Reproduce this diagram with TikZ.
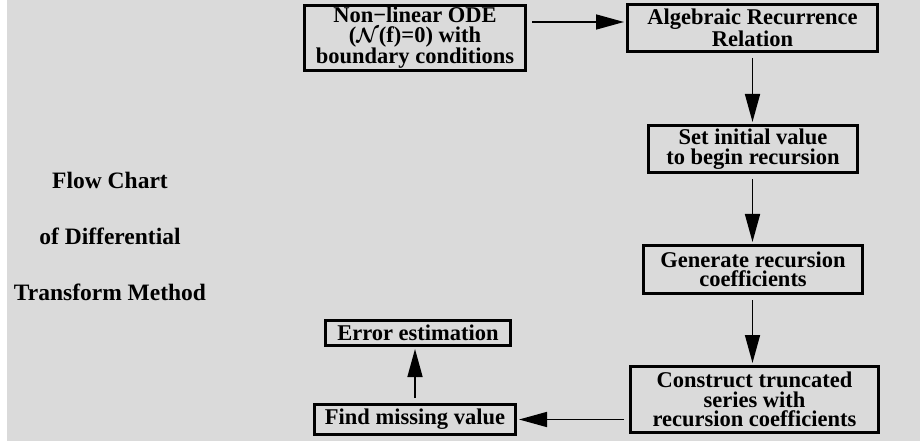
\documentclass[tikz,border=0pt]{standalone}
\usepackage{amsmath}
\usepackage{fontspec}
\setmainfont{Liberation Serif}
\usetikzlibrary{arrows.meta}
\definecolor{bggray}{RGB}{218,218,218}

\begin{document}
\begin{tikzpicture}[x=1pt,y=-1pt]
              \tikzstyle{every node} = [font=\fontsize{22.5}{19.5}\selectfont\bfseries, align=center, inner sep=0pt];
              \tikzstyle{stepbox} = [draw, line width=3pt, fill=bggray];
              \tikzstyle{flow} = [line width=1.6pt, -{Triangle[length=28pt,width=15pt]}, shorten <=5pt, shorten >=2pt];
              \useasboundingbox (0,0) rectangle (920,446);
              \fill[bggray] (7,0) rectangle (920,441);
              % title on the left
              \node[font=\fontsize{23.5}{24}\selectfont\bfseries](t1) at (110,180) {Flow Chart};
              \node[font=\fontsize{23.5}{24}\selectfont\bfseries](t2) at (110,236) {of Differential};
              \node[font=\fontsize{23.5}{24}\selectfont\bfseries](t3) at (110,292) {Transform Method};
              % boxes
              \node[stepbox, minimum width=221, minimum height=65](ode) at (415,38) {Non−linear ODE\\($\boldsymbol{\mathcal{N}}$(f)=0) with\\boundary conditions};
              \node[stepbox, minimum width=250, minimum height=47](alg) at (752.5,28) {Algebraic Recurrence\\Relation};
              \node[stepbox, minimum width=209, minimum height=47](init) at (753,149) {Set initial value\\to begin recursion};
              \node[stepbox, minimum width=219, minimum height=48](gen) at (753,269.5) {Generate recursion\\coefficients};
              \node[stepbox, minimum width=248, minimum height=66](trunc) at (754.5,399.5) {Construct truncated\\series with\\recursion coefficients};
              \node[stepbox, minimum width=201, minimum height=30](find) at (415,419.5) {Find missing value};
              \node[stepbox, minimum width=185, minimum height=25](err) at (418,333) {Error estimation};
              % connectors
              \draw[flow] ([yshift=6pt]ode.east |- alg.west) -- ([yshift=6pt]alg.west);
              \draw[flow] (alg.south) -- (alg.south |- init.north);
              \draw[flow] (alg.south |- init.south) -- (alg.south |- gen.north);
              \draw[flow] (alg.south |- gen.south) -- (alg.south |- trunc.north);
              \draw[flow] (trunc.west |- find.east) -- (find.east);
              \draw[flow] (find.north) -- (find.north |- err.south);
            \end{tikzpicture}
\end{document}
